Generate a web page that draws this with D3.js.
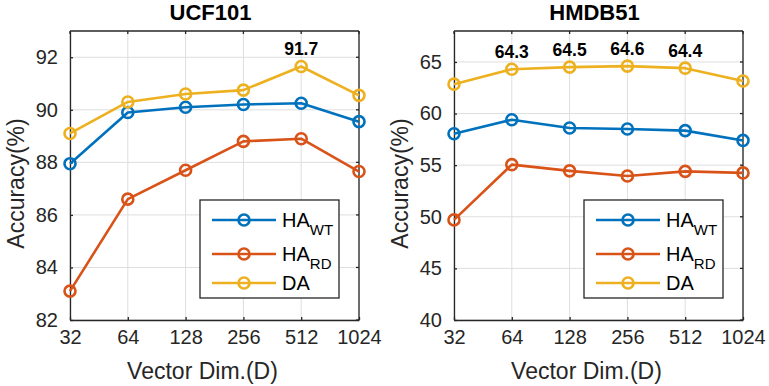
<!DOCTYPE html>
<html>
<head>
<meta charset="utf-8">
<script src="https://cdn.jsdelivr.net/npm/d3@7"></script>
<style>
  body { margin: 0; background: #fff; }
  svg { font-family: "Liberation Sans", Arial, sans-serif; }
</style>
</head>
<body>
<svg width="769" height="386"></svg>
<script>
// x categories (vector dimension)
const dims = ["32", "64", "128", "256", "512", "1024"];
const seriesNames = ["HA_WT", "HA_RD", "DA"];

// UCF101
const ucfWT = [87.95, 89.9, 90.1, 90.2, 90.25, 89.55];
const ucfRD = [83.1, 86.6, 87.7, 88.8, 88.9, 87.65];
const ucfDA = [89.1, 90.3, 90.6, 90.75, 91.65, 90.55];
const ucfTicks = [82, 84, 86, 88, 90, 92];
const ucfLabels = [{ i: 4, text: "91.7" }];

// HMDB51
const hmWT = [58.05, 59.4, 58.6, 58.5, 58.35, 57.4];
const hmRD = [49.7, 55.05, 54.45, 53.95, 54.4, 54.25];
const hmDA = [62.85, 64.3, 64.5, 64.6, 64.4, 63.15];
const hmTicks = [40, 45, 50, 55, 60, 65];
const hmLabels = [{ i: 1, text: "64.3" }, { i: 2, text: "64.5" }, { i: 3, text: "64.6" }, { i: 4, text: "64.4" }];

const colors = ["#0072BD", "#D95319", "#EDB120"];

const svg = d3.select("svg");

function panel(left, title, series, ydom, ticks, labels) {
  const top = 31, bottom = 320, right = left + 289;
  const x = d3.scalePoint().domain(dims).range([left, right]);
  const y = d3.scaleLinear().domain(ydom).range([bottom, top]);
  const g = svg.append("g");

  // grid
  g.selectAll(".gx").data(dims).enter().append("line")
    .attr("x1", d => x(d)).attr("x2", d => x(d))
    .attr("y1", top).attr("y2", bottom)
    .attr("stroke", "#dedede").attr("stroke-width", 1);
  g.selectAll(".gy").data(ticks).enter().append("line")
    .attr("x1", left).attr("x2", right)
    .attr("y1", d => y(d)).attr("y2", d => y(d))
    .attr("stroke", "#dedede").attr("stroke-width", 1);

  // axes
  const ax = d3.axisBottom(x).tickSizeInner(-3).tickSizeOuter(0).tickPadding(10);
  const ay = d3.axisLeft(y).tickValues(ticks).tickSizeInner(-3).tickSizeOuter(0).tickPadding(12);
  const gx = g.append("g").attr("transform", `translate(0,${bottom})`).call(ax);
  const gy = g.append("g").attr("transform", `translate(${left},0)`).call(ay);
  [gx, gy].forEach(a => {
    a.selectAll("path,line").attr("stroke", "#262626").attr("stroke-width", 1.3);
    a.selectAll("text").attr("fill", "#262626").attr("font-size", 20);
  });
  // top/right box edges with ticks
  g.append("line").attr("x1", left).attr("x2", right).attr("y1", top).attr("y2", top)
    .attr("stroke", "#262626").attr("stroke-width", 1.3);
  g.append("line").attr("x1", right).attr("x2", right).attr("y1", top).attr("y2", bottom)
    .attr("stroke", "#262626").attr("stroke-width", 1.3);
  g.selectAll(".tt").data(dims).enter().append("line")
    .attr("x1", d => x(d)).attr("x2", d => x(d)).attr("y1", top).attr("y2", top + 3)
    .attr("stroke", "#262626").attr("stroke-width", 1.3);
  g.selectAll(".tr").data(ticks).enter().append("line")
    .attr("x1", right - 3).attr("x2", right).attr("y1", d => y(d)).attr("y2", d => y(d))
    .attr("stroke", "#262626").attr("stroke-width", 1.3);

  // title and axis labels
  g.append("text").attr("x", (left + right) / 2 - 4).attr("y", 20).attr("text-anchor", "middle")
    .attr("font-weight", "bold").attr("font-size", 22).attr("fill", "#000").text(title);
  g.append("text").attr("x", (left + right) / 2 - 12).attr("y", 379).attr("text-anchor", "middle")
    .attr("font-size", 23).attr("fill", "#262626").text("Vector Dim.(D)");
  g.append("text").attr("transform", `translate(${left - 46},${(top + bottom) / 2 + 8}) rotate(-90)`)
    .attr("text-anchor", "middle").attr("font-size", 23).attr("fill", "#262626").text("Accuracy(%)");

  // lines
  const line = d3.line().x((d, i) => x(dims[i])).y(d => y(d));
  series.forEach((s, k) => {
    g.append("path").datum(s).attr("d", line).attr("fill", "none")
      .attr("stroke", colors[k]).attr("stroke-width", 2.6).attr("stroke-linejoin", "round");
    g.selectAll(null).data(s).enter().append("circle")
      .attr("cx", (d, i) => x(dims[i])).attr("cy", d => y(d)).attr("r", 5.5)
      .attr("fill", "none").attr("stroke", colors[k]).attr("stroke-width", 2.6);
  });

  // value labels over DA
  g.selectAll(null).data(labels).enter().append("text")
    .attr("x", d => x(dims[d.i])).attr("y", d => y(series[2][d.i]) - 11)
    .attr("text-anchor", "middle").attr("font-weight", "bold").attr("font-size", 17.5)
    .attr("fill", "#000").text(d => d.text);

  // legend
  const lx = left + 130, ly = 200;
  const lg = g.append("g");
  lg.append("rect").attr("x", lx).attr("y", ly).attr("width", 139).attr("height", 98)
    .attr("fill", "#fff").attr("stroke", "#262626").attr("stroke-width", 1.3);
  const rows = [ly + 20, ly + 54, ly + 83];
  const subs = ["WT", "RD", null];
  seriesNames.forEach((n, k) => {
    lg.append("line").attr("x1", lx + 12).attr("x2", lx + 76).attr("y1", rows[k]).attr("y2", rows[k])
      .attr("stroke", colors[k]).attr("stroke-width", 2.6);
    lg.append("circle").attr("cx", lx + 44).attr("cy", rows[k]).attr("r", 5.5)
      .attr("fill", "none").attr("stroke", colors[k]).attr("stroke-width", 2.6);
    const t = lg.append("text").attr("x", lx + 82).attr("y", rows[k] + 7)
      .attr("font-size", 20).attr("fill", "#000");
    if (subs[k]) {
      t.append("tspan").text("HA");
      t.append("tspan").attr("dy", 8).attr("font-size", 15).text(subs[k]);
    } else {
      t.text(n);
    }
  });
}

panel(70, "UCF101", [ucfWT, ucfRD, ucfDA], [82, 93], ucfTicks, ucfLabels);
panel(454, "HMDB51", [hmWT, hmRD, hmDA], [40, 68], hmTicks, hmLabels);
</script>
</body>
</html>
